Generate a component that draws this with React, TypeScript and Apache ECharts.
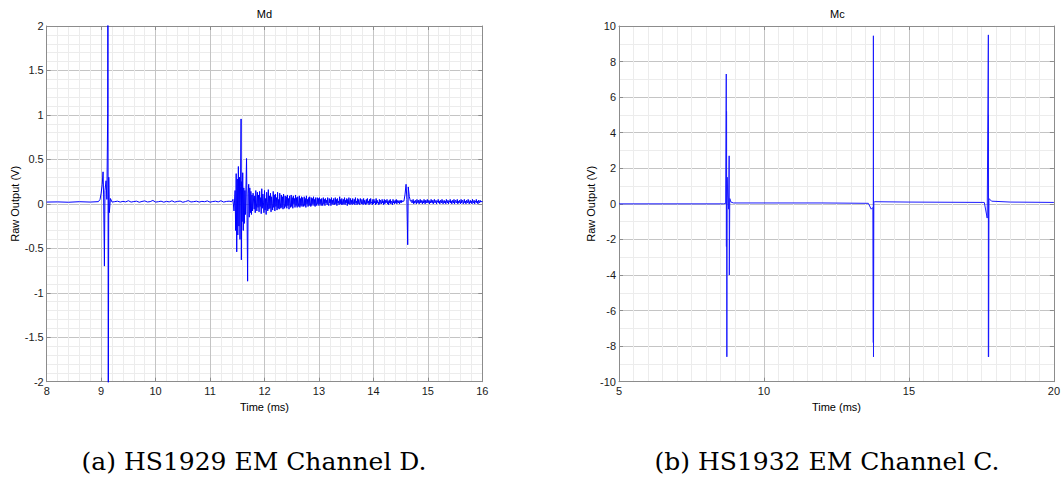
import React, { useEffect, useRef } from "react";
import * as echarts from "echarts";

// ---------- Texts ----------
const mdTitle = "Md";
const mcTitle = "Mc";
const xName = "Time (ms)";
const yName = "Raw Output (V)";
const captionA = "(a) HS1929 EM Channel D.";
const captionB = "(b) HS1932 EM Channel C.";

// ---------- Data: Md (HS1929 EM Channel D) ----------
const mdQuiet1: [number, number][] = [
  [8.0, 0.02], [8.2, 0.022], [8.4, 0.018], [8.6, 0.024], [8.8, 0.02], [8.95, 0.025],
];
const mdEvent1: [number, number][] = [
  [8.98, 0.05], [9.0, 0.12], [9.02, 0.22], [9.035, 0.36], [9.045, 0.1], [9.06, -0.7],
  [9.07, 0.15], [9.09, 0.26], [9.105, 0.05], [9.12, 1.02], [9.125, 3.2], [9.13, -3.2],
  [9.14, 0.3], [9.15, -0.1], [9.17, 0.06], [9.2, 0.02],
];
const mdQuiet2Start = 9.25;
const mdQuiet2Step = 0.05;
const mdQuiet2 = [
  0.025, 0.03, 0.02, 0.028, 0.022, 0.035, 0.02, 0.026, 0.03, 0.018,
  0.027, 0.033, 0.021, 0.025, 0.038, 0.02, 0.024, 0.03, 0.019, 0.028,
  0.022, 0.034, 0.02, 0.027, 0.031, 0.018, 0.026, 0.036, 0.021, 0.025,
  0.03, 0.02, 0.028, 0.024, 0.033, 0.019, 0.026, 0.03, 0.022, 0.035,
  0.02, 0.027, 0.03, 0.024,
];
const mdBurst: [number, number][] = [
  [11.42, 0.05], [11.44, -0.08], [11.46, 0.15], [11.47, -0.3], [11.48, 0.34],
  [11.49, -0.54], [11.5, 0.28], [11.51, -0.35], [11.52, 0.42], [11.53, -0.25],
  [11.54, 0.3], [11.55, -0.4], [11.56, 0.2], [11.57, 0.955], [11.575, -0.63],
  [11.58, 0.25], [11.59, -0.2], [11.6, 0.35], [11.61, -0.3], [11.62, 0.18],
  [11.63, -0.22], [11.64, 0.15], [11.65, -0.12], [11.66, 0.2], [11.67, 0.51],
  [11.68, -0.15], [11.69, -0.87], [11.7, 0.12], [11.71, 0.22], [11.72, -0.15],
  [11.73, 0.18], [11.74, -0.1], [11.75, 0.14], [11.76, -0.12], [11.77, 0.1],
  [11.78, -0.08], [11.79, 0.12],
];
const mdCodaStart = 11.8;
const mdCodaStep = 0.01;
const mdCoda = [
  // 11.80 - 12.39
  0.12, -0.06, 0.09, -0.10, 0.15, 0.01, -0.08, 0.13, -0.04, 0.10,
  -0.09, 0.14, -0.03, 0.07, -0.11, 0.17, -0.05, 0.11, 0.02, -0.10,
  0.15, -0.07, 0.06, -0.12, 0.13, 0.03, -0.08, 0.16, -0.06, 0.09,
  -0.05, 0.12, -0.09, 0.08, 0.00, -0.07, 0.14, -0.04, 0.10, -0.08,
  0.11, -0.03, 0.07, -0.07, 0.13, -0.05, 0.05, -0.06, 0.12, 0.01,
  -0.05, 0.10, -0.04, 0.08, -0.06, 0.11, 0.00, -0.05, 0.09, -0.03,
  // 12.40 - 12.99
  0.08, -0.05, 0.10, -0.02, 0.06, -0.06, 0.09, 0.01, -0.04, 0.10,
  -0.03, 0.07, -0.05, 0.09, 0.00, 0.06, -0.04, 0.10, -0.02, 0.07,
  -0.04, 0.08, 0.01, -0.03, 0.09, -0.04, 0.06, -0.02, 0.08, -0.03,
  0.07, 0.00, -0.03, 0.08, -0.02, 0.06, -0.04, 0.09, 0.00, 0.05,
  -0.03, 0.07, -0.02, 0.08, 0.01, -0.03, 0.07, -0.02, 0.06, 0.00,
  0.08, -0.02, 0.05, -0.03, 0.07, 0.01, -0.02, 0.07, 0.00, 0.06,
  // 13.00 - 13.99
  -0.02, 0.07, 0.00, 0.05, -0.02, 0.06, 0.01, -0.02, 0.07, 0.00,
  0.05, -0.02, 0.06, 0.01, 0.04, -0.01, 0.07, 0.00, -0.02, 0.06,
  0.01, 0.05, -0.02, 0.07, 0.00, 0.04, -0.01, 0.06, 0.02, -0.01,
  0.07, 0.00, 0.05, -0.02, 0.06, 0.01, 0.03, -0.01, 0.08, 0.00,
  0.05, -0.01, 0.06, 0.02, -0.01, 0.05, 0.00, 0.07, -0.01, 0.04,
  0.01, 0.06, -0.02, 0.05, 0.00, 0.07, 0.01, -0.01, 0.06, 0.00,
  0.04, -0.01, 0.06, 0.02, 0.00, 0.05, -0.01, 0.07, 0.01, 0.03,
  -0.01, 0.06, 0.00, 0.05, 0.01, -0.01, 0.06, 0.02, 0.00, 0.05,
  0.01, -0.01, 0.06, 0.00, 0.04, 0.02, -0.01, 0.05, 0.00, 0.06,
  0.01, 0.03, -0.01, 0.05, 0.00, 0.06, 0.01, 0.02, -0.01, 0.05,
  // 14.00 - 14.54
  0.00, 0.05, 0.01, 0.03, -0.01, 0.06, 0.00, 0.04, 0.01, 0.02,
  -0.01, 0.05, 0.00, 0.04, 0.02, 0.00, 0.05, 0.01, 0.03, -0.01,
  0.05, 0.00, 0.04, 0.01, 0.02, 0.05, 0.00, 0.03, -0.01, 0.04,
  0.01, 0.05, 0.00, 0.03, 0.02, -0.01, 0.05, 0.01, 0.03, 0.00,
  0.04, 0.01, 0.05, 0.00, 0.02, 0.04, 0.01, 0.03, 0.00, 0.04,
  0.02, 0.01, 0.04, 0.02, 0.03,
];
const mdEvent2: [number, number][] = [
  [14.56, 0.03], [14.58, 0.1], [14.6, 0.22], [14.615, 0.05], [14.63, -0.46],
  [14.64, 0.19], [14.66, 0.08], [14.68, 0.03],
];
const mdTailStart = 14.7;
const mdTailStep = 0.01;
const mdTail = [
  0.04, 0.01, 0.03, 0.05, 0.00, 0.03, 0.01, 0.04, 0.02, 0.00,
  0.05, 0.02, 0.01, 0.04, 0.00, 0.03, 0.05, 0.01, 0.02, 0.04,
  0.00, 0.03, 0.01, 0.05, 0.02, 0.00, 0.04, 0.01, 0.03, 0.05,
  0.01, 0.02, 0.04, 0.00, 0.03, 0.01, 0.05, 0.02, 0.01, 0.04,
  0.00, 0.03, 0.05, 0.01, 0.02, 0.04, 0.00, 0.03, 0.02, 0.05,
  0.01, 0.03, 0.00, 0.04, 0.02, 0.01, 0.05, 0.02, 0.00, 0.03,
  0.04, 0.01, 0.03, 0.00, 0.05, 0.02, 0.01, 0.04, 0.00, 0.03,
  0.02, 0.05, 0.01, 0.03, 0.00, 0.04, 0.02, 0.01, 0.05, 0.00,
  0.03, 0.04, 0.01, 0.02, 0.05, 0.00, 0.03, 0.01, 0.04, 0.02,
  0.00, 0.05, 0.01, 0.03, 0.04, 0.00, 0.02, 0.05, 0.01, 0.03,
  0.00, 0.04, 0.02, 0.01, 0.05, 0.02, 0.00, 0.03, 0.04, 0.01,
  0.03, 0.00, 0.05, 0.02, 0.01, 0.04, 0.00, 0.03, 0.02, 0.05,
  0.01, 0.03, 0.00, 0.04, 0.02, 0.01, 0.04, 0.02, 0.03, 0.02,
  0.03,
];

// ---------- Data: Mc (HS1932 EM Channel C) ----------
const mcTrace: [number, number][] = [
  [5.0, 0.0], [7.0, 0.0], [8.6, 0.0], [8.68, 0.02], [8.7, 7.3], [8.705, -2.4],
  [8.71, 5.2], [8.72, -8.6], [8.73, 1.5], [8.75, 0.5], [8.78, -0.3], [8.8, 2.7],
  [8.805, -4.0], [8.82, 0.3], [8.86, 0.1], [8.95, 0.05], [10.0, 0.05], [12.0, 0.05],
  [13.6, 0.03], [13.7, -0.3], [13.76, -0.2], [13.772, -7.8], [13.775, 9.45],
  [13.778, -8.6], [13.79, 0.1], [13.82, 0.12], [15.0, 0.1], [17.6, 0.08],
  [17.7, -0.8], [17.74, 9.5], [17.742, -8.6], [17.745, 5.0], [17.748, -8.6],
  [17.76, 0.3], [17.85, 0.15], [18.5, 0.1], [20.0, 0.08],
];

// ---------- Axis settings ----------
const mdX = { min: 8, max: 16, interval: 1, minor: 5 };
const mdY = { min: -2, max: 2, interval: 0.5, minor: 5 };
const mcX = { min: 5, max: 20, interval: 5, minor: 10 };
const mcY = { min: -10, max: 10, interval: 2, minor: 2 };

const sampled = (start: number, step: number, vals: number[]): [number, number][] =>
  vals.map((v, i) => [+(start + i * step).toFixed(4), v]);

const mdData: [number, number][] = [
  ...mdQuiet1,
  ...mdEvent1,
  ...sampled(mdQuiet2Start, mdQuiet2Step, mdQuiet2),
  ...mdBurst,
  ...sampled(mdCodaStart, mdCodaStep, mdCoda),
  ...mdEvent2,
  ...sampled(mdTailStart, mdTailStep, mdTail),
];

const FONT = "'Liberation Sans', Arial, Helvetica, sans-serif";
const AXIS_COLOR = "#8c8c8c";

function mainX(grid: number, a: any, gap: number) {
  return {
    type: "value",
    gridIndex: grid,
    min: a.min,
    max: a.max,
    interval: a.interval,
    name: xName,
    nameLocation: "middle",
    nameGap: gap,
    nameTextStyle: { fontSize: 11, color: "#000", fontFamily: FONT },
    axisLine: { show: true, onZero: false, lineStyle: { color: AXIS_COLOR } },
    axisTick: { show: true, inside: true, length: 4, lineStyle: { color: AXIS_COLOR } },
    axisLabel: { fontSize: 11, color: "#1a1a1a", fontFamily: FONT, margin: 4 },
    splitLine: { show: true, lineStyle: { color: "#c4c4c4", width: 1 } },
    minorTick: { show: false, splitNumber: a.minor },
    minorSplitLine: { show: true, lineStyle: { color: "#ececec", width: 1 } },
  };
}
function mainY(grid: number, a: any, gap: number) {
  return {
    type: "value",
    gridIndex: grid,
    min: a.min,
    max: a.max,
    interval: a.interval,
    name: yName,
    nameLocation: "middle",
    nameGap: gap,
    nameTextStyle: { fontSize: 11, color: "#000", fontFamily: FONT },
    axisLine: { show: true, onZero: false, lineStyle: { color: AXIS_COLOR } },
    axisTick: { show: true, inside: true, length: 4, lineStyle: { color: AXIS_COLOR } },
    axisLabel: { fontSize: 11, color: "#1a1a1a", fontFamily: FONT, margin: 3 },
    splitLine: { show: true, lineStyle: { color: "#c4c4c4", width: 1 } },
    minorTick: { show: false, splitNumber: a.minor },
    minorSplitLine: { show: true, lineStyle: { color: "#ececec", width: 1 } },
  };
}
function edgeAxis(grid: number, a: any, position: string) {
  return {
    type: "value",
    gridIndex: grid,
    position,
    min: a.min,
    max: a.max,
    interval: a.interval,
    axisLine: { show: true, onZero: false, lineStyle: { color: AXIS_COLOR } },
    axisTick: { show: true, inside: true, length: 4, lineStyle: { color: AXIS_COLOR } },
    axisLabel: { show: false },
    splitLine: { show: false },
  };
}

export default function App() {
  const ref = useRef<HTMLDivElement>(null);
  useEffect(() => {
    if (!ref.current) return;
    const chart = echarts.init(ref.current, undefined, { renderer: "svg" });
    const grids = [
      { left: 46.7, top: 26, width: 435.6, height: 355.7, show: false },
      { left: 619, top: 26, width: 436.7, height: 355.7, show: false },
    ];
    const textEl = (x: number, y: number, text: string, font: string) => ({
      type: "text",
      x,
      y,
      silent: true,
      style: {
        text,
        font,
        fill: "#000",
        align: "center",
        verticalAlign: "middle",
        textAlign: "center",
        textVerticalAlign: "middle",
      },
    });
    const option: any = {
      animation: false,
      backgroundColor: "#ffffff",
      grid: grids,
      xAxis: [
        mainX(0, mdX, 14),
        mainX(1, mcX, 14),
        edgeAxis(0, mdX, "top"),
        edgeAxis(1, mcX, "top"),
      ],
      yAxis: [
        mainY(0, mdY, 25),
        mainY(1, mcY, 21.5),
        edgeAxis(0, mdY, "right"),
        edgeAxis(1, mcY, "right"),
      ],
      graphic: [
        textEl(264.5, 14, mdTitle, `11px ${FONT}`),
        textEl(837.3, 14, mcTitle, `11px ${FONT}`),
        textEl(254, 461, captionA, `25px 'DejaVu Serif', serif`),
        textEl(827, 461, captionB, `25px 'DejaVu Serif', serif`),
      ],
      series: [
        {
          type: "line",
          xAxisIndex: 0,
          yAxisIndex: 0,
          data: mdData,
          showSymbol: false,
          symbol: "none",
          clip: true,
          sampling: undefined,
          lineStyle: { color: "#0000ff", width: 1 },
          itemStyle: { color: "#0000ff" },
        },
        {
          type: "line",
          xAxisIndex: 1,
          yAxisIndex: 1,
          data: mcTrace,
          showSymbol: false,
          symbol: "none",
          clip: true,
          lineStyle: { color: "#1a1aff", width: 1 },
          itemStyle: { color: "#1a1aff" },
        },
      ],
    };
    chart.setOption(option);
    return () => chart.dispose();
  }, []);
  return (
    <div
      ref={ref}
      style={{ position: "absolute", left: 0, top: 0, width: "1063px", height: "480px", background: "#fff" }}
    />
  );
}
